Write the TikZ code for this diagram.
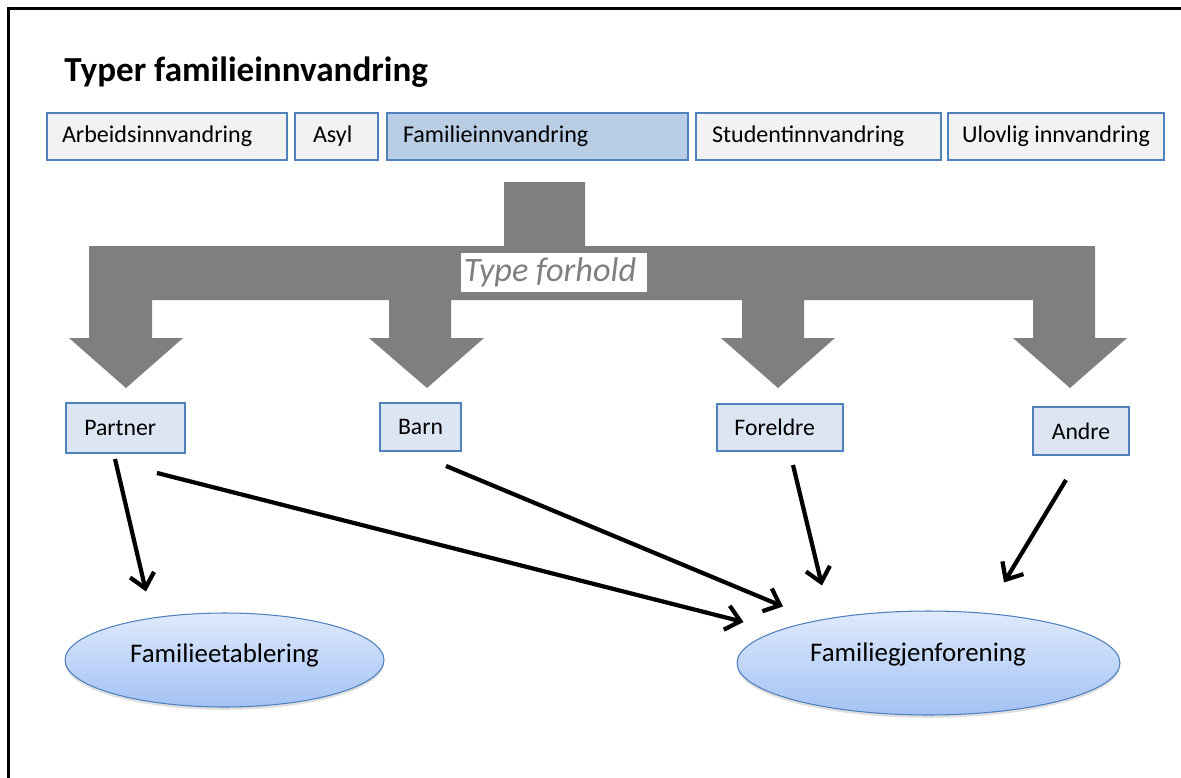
\documentclass[tikz,border=0pt]{standalone}
\usepackage{fontspec}
\setmainfont{Carlito}
\usetikzlibrary{arrows.meta,calc,shadows,shapes.geometric}
\definecolor{boxblue}{HTML}{4F81BD}
\definecolor{topfill}{HTML}{F2F2F2}
\definecolor{famfill}{HTML}{B9CDE5}
\definecolor{lowfill}{HTML}{DCE6F2}
\definecolor{arrowgray}{HTML}{7F7F7F}
\definecolor{elltop}{HTML}{DFEAFC}
\definecolor{ellbot}{HTML}{A3C2F5}
\begin{document}
\begin{tikzpicture}[x=0.02cm,y=-0.02cm,
  topbox/.style={draw=boxblue, line width=1.1pt, fill=topfill, minimum height=0.94cm,
    inner ysep=0pt, inner xsep=0.32cm, align=left, font=\fontsize{13.7}{16}\selectfont},
  lowbox/.style={draw=boxblue, line width=1.1pt, fill=lowfill, inner sep=0pt,
    font=\fontsize{13.5}{16}\selectfont},
  ellnode/.style={ellipse, draw=boxblue, line width=0.6pt, top color=elltop, bottom color=ellbot,
    inner sep=0pt, font=\fontsize{15.3}{18}\selectfont,
    drop shadow={opacity=0.25, shadow xshift=0pt, shadow yshift=-1.6pt}},
  conn/.style={line width=2.4pt, -{Straight Barb[length=8pt,width=14pt]}}
]
\useasboundingbox (0,0) rectangle (1181,778);
\fill[white] (0,0) rectangle (1181,778);

% frame (only left and top edges visible)
\coordinate (fbl) at (8.5,778);
\coordinate (ftl) at (8.5,8.5);
\coordinate (ftr) at (1181,8.5);
\draw[line width=1.7pt] (fbl) -- (ftl) -- (ftr);

% title
\node[anchor=base west, inner sep=0pt, font=\fontsize{20}{24}\selectfont\bfseries] (title) at (64,81) {Typer familieinnvandring};

% top boxes
\node[topbox, text width=4.2cm, inner xsep=0.3cm] (arb) at (167,136.5) {\raisebox{-1.5pt}{Arbeidsinnvandring}};
\node[topbox, text width=0.94cm, inner xsep=0.36cm] (asyl) at (336.5,136.5) {\raisebox{-1.5pt}{Asyl}};
\node[topbox, fill=famfill, text width=5.38cm] (fam) at (537.5,136.5) {\raisebox{-1.5pt}{Familieinnvandring}};
\node[topbox, text width=4.26cm] (stud) at (818.5,136.5) {\raisebox{-1.5pt}{Studentinnvandring}};
\node[topbox, align=center, minimum width=4.32cm, inner xsep=0pt] (ulov) at (1056,136.5) {\raisebox{-1.5pt}{Ulovlig innvandring}};

% gray branching arrow
\fill[arrowgray] (504,182) -- (585,182) -- (585,246) -- (1095,246) -- (1095,338) -- (1127,338)
  -- (1070,388) -- (1013,338) -- (1033,338) -- (1033,300) -- (804,300) -- (804,338) -- (835,338)
  -- (778,388) -- (721,338) -- (742,338) -- (742,300) -- (451,300) -- (451,338) -- (484,338)
  -- (427,388) -- (369,338) -- (389,338) -- (389,300) -- (152,300) -- (152,338) -- (183,338)
  -- (126,388) -- (69,338) -- (89,338) -- (89,246) -- (504,246) -- cycle;

\node[fill=white, minimum width=3.72cm, minimum height=0.78cm, inner sep=0pt, text=arrowgray,
  font=\fontsize{19.5}{22}\selectfont\itshape] (tf) at (554,272.5) {Type forhold\kern4.5pt};

% relation boxes
\node[lowbox, minimum width=2.38cm, minimum height=1.0cm] (partner) at (125.5,428) {Partner\kern6pt};
\node[lowbox, minimum width=1.62cm, minimum height=0.96cm] (barn) at (420.5,427) {Barn};
\node[lowbox, minimum width=2.52cm, minimum height=0.94cm] (foreldre) at (780,427.5) {Foreldre\kern6pt};
\node[lowbox, minimum width=1.92cm, minimum height=0.96cm] (andre) at (1081,431) {Andre};

% outcome ellipses
\node[ellnode, minimum width=6.38cm, minimum height=1.88cm] (fe) at (224.5,660) {\raisebox{8pt}{Familieetablering}};
\node[ellnode, minimum width=7.66cm, minimum height=2.08cm] (fg) at (928.5,663) {\raisebox{12pt}{Familiegjenforening}\kern12pt};

% connector end points
\coordinate (p1s) at ($(partner.south)+(-10.5,5)$);
\coordinate (p1e) at ($(fe.north)+(-78.5,-21)$);
\coordinate (p2s) at ($(partner.south)+(31.5,19)$);
\coordinate (p2e) at ($(fg.west)+(7,-41)$);
\coordinate (bs) at ($(barn.south)+(25.5,14)$);
\coordinate (be) at ($(fg.north)+(-145.5,-4)$);
\coordinate (fs) at ($(foreldre.south)+(13,13)$);
\coordinate (fe2) at ($(fg.north)+(-106.5,-25)$);
\coordinate (as) at ($(andre.south)+(-15,24)$);
\coordinate (ae) at ($(fg.north)+(75.5,-28)$);

\draw[conn] (p1s) -- (p1e);
\draw[conn] (p2s) -- (p2e);
\draw[conn] (bs) -- (be);
\draw[conn] (fs) -- (fe2);
\draw[conn] (as) -- (ae);
\end{tikzpicture}
\end{document}
